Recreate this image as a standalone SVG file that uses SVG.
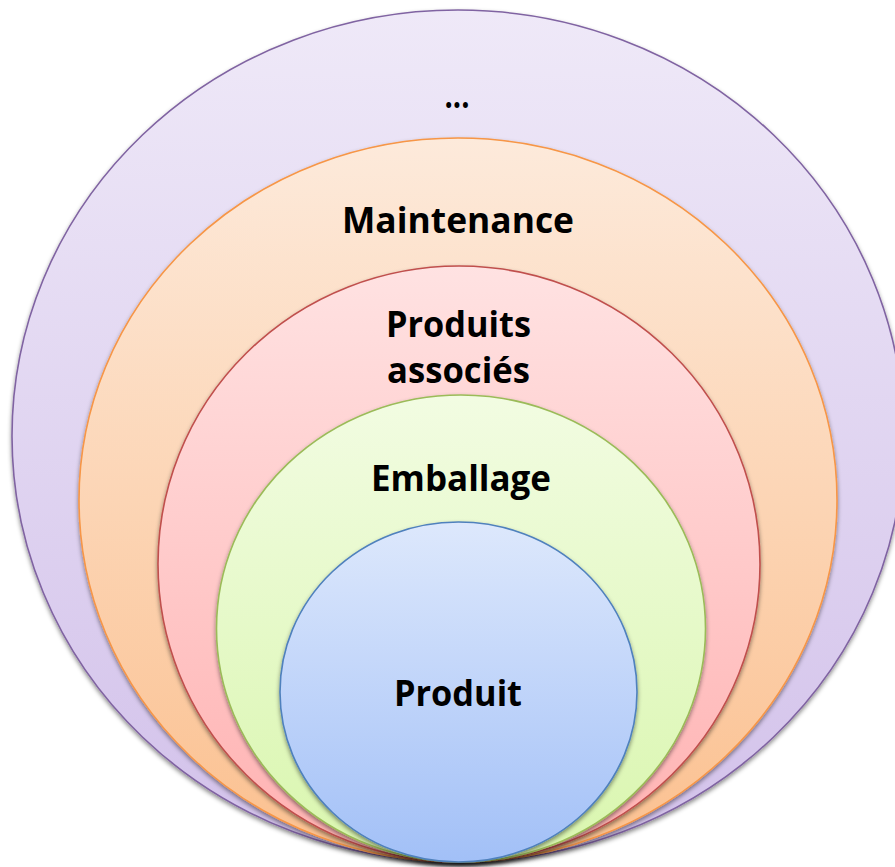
<svg xmlns="http://www.w3.org/2000/svg" width="895" height="867" viewBox="0 0 895 867">
<style>
.lbl{font-family:"Open Sans","Liberation Sans",sans-serif;font-weight:bold;font-size:35px;fill:#000;text-anchor:middle}
.ring{stroke-width:1.6;filter:url(#sh)}
</style>
<defs>
<filter id="sh" x="-10%" y="-10%" width="120%" height="120%">
<feDropShadow dx="0" dy="2.5" stdDeviation="2" flood-color="#000" flood-opacity="0.45"/>
</filter>
<linearGradient id="gP" x1="0" y1="0" x2="0" y2="1"><stop offset="0" stop-color="#EFE9F8"/><stop offset="1" stop-color="#D2C1EA"/></linearGradient>
<linearGradient id="gO" x1="0" y1="0" x2="0" y2="1"><stop offset="0" stop-color="#FDEADB"/><stop offset="1" stop-color="#FBC08F"/></linearGradient>
<linearGradient id="gR" x1="0" y1="0" x2="0" y2="1"><stop offset="0" stop-color="#FFE2E2"/><stop offset="1" stop-color="#FFB1B1"/></linearGradient>
<linearGradient id="gG" x1="0" y1="0" x2="0" y2="1"><stop offset="0" stop-color="#F2FCE2"/><stop offset="1" stop-color="#D9F6AE"/></linearGradient>
<linearGradient id="gB" x1="0" y1="0" x2="0" y2="1"><stop offset="0" stop-color="#DDE8FC"/><stop offset="1" stop-color="#A2C0F7"/></linearGradient>
</defs>
<g id="autre">
<ellipse class="ring" cx="458" cy="436" rx="446" ry="426" fill="url(#gP)" stroke="#8064A2"/>
<text class="lbl" x="457" y="108" textLength="25" lengthAdjust="spacingAndGlyphs">...</text>
</g>
<g id="maintenance">
<ellipse class="ring" cx="458" cy="500" rx="379" ry="362" fill="url(#gO)" stroke="#F79646"/>
<text class="lbl" x="458" y="233" textLength="232" lengthAdjust="spacingAndGlyphs">Maintenance</text>
</g>
<g id="produits-associes">
<ellipse class="ring" cx="459" cy="564" rx="301" ry="298" fill="url(#gR)" stroke="#C0504D"/>
<text class="lbl" x="458.5" y="337" textLength="145" lengthAdjust="spacingAndGlyphs">Produits</text>
<text class="lbl" x="458.5" y="383" textLength="143" lengthAdjust="spacingAndGlyphs">associés</text>
</g>
<g id="emballage">
<ellipse class="ring" cx="461" cy="628.5" rx="244.5" ry="233.5" fill="url(#gG)" stroke="#9BBB59"/>
<text class="lbl" x="461" y="491" textLength="180" lengthAdjust="spacingAndGlyphs">Emballage</text>
</g>
<g id="produit">
<ellipse class="ring" cx="458.5" cy="692" rx="178.5" ry="170" fill="url(#gB)" stroke="#4F81BD"/>
<text class="lbl" x="458" y="706" textLength="128" lengthAdjust="spacingAndGlyphs">Produit</text>
</g>
<g id="connectors"/>
</svg>
